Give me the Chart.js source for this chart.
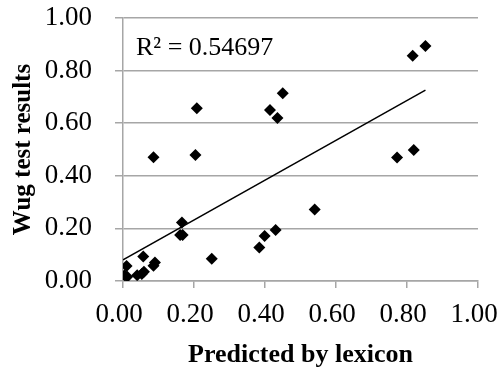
<!DOCTYPE html>
<html>
<head>
<meta charset="utf-8">
<script src="https://cdn.jsdelivr.net/npm/chart.js@4"></script>
<style>
  html, body { margin: 0; padding: 0; background: #fff; }
</style>
</head>
<body>
<canvas id="myChart" width="498" height="369"></canvas>
<script>
// values
const lexicon = [0.852, 0.816, 0.450, 0.414, 0.435, 0.208, 0.204, 0.086, 0.772, 0.819,
  0.540, 0.166, 0.161, 0.168, 0.430, 0.399, 0.384, 0.250, 0.057, 0.086,
  0.090, 0.010, 0.004, 0.012, 0.040, 0.053, 0.059]
const wug = [0.894, 0.856, 0.714, 0.650, 0.620, 0.657, 0.479, 0.471, 0.470, 0.498,
  0.272, 0.222, 0.175, 0.175, 0.194, 0.171, 0.127, 0.085, 0.093, 0.058,
  0.070, 0.057, 0.022, 0.016, 0.022, 0.027, 0.035]
const trendX = [0, 0.852]
const trendY = [0.080, 0.726]
const rSquared = '0.54697'
const tickValues = [0, 0.2, 0.4, 0.6, 0.8, 1.0]

const serif = "'Liberation Serif', 'Times New Roman', serif"

const rLabel = {
	id: 'rLabel',
	afterDraw(chart) {
		const ctx = chart.ctx
		ctx.save()
		ctx.font = '26px ' + serif
		ctx.fillStyle = '#000'
		ctx.textBaseline = 'alphabetic'
		ctx.fillText('R\u00b2 = ' + rSquared, 136, 55)
		ctx.restore()
	}
}

var ctx = document.getElementById('myChart').getContext('2d');
var myChart = new Chart(ctx, {
	type: 'scatter',
	data: {
		datasets: [{
			label: 'points',
			data: lexicon.map((x, i) => ({ x: x, y: wug[i] })),
			pointStyle: 'rectRot',
			pointRadius: 6,
			backgroundColor: '#000',
			borderColor: '#000',
			borderWidth: 0
		}, {
			label: 'trend',
			type: 'line',
			data: trendX.map((x, i) => ({ x: x, y: trendY[i] })),
			borderColor: '#000',
			borderWidth: 1.5,
			pointRadius: 0,
			fill: false
		}]
	},
	plugins: [rLabel],
	options: {
		responsive: false,
		animation: false,
		layout: { padding: { top: 18, right: 0, left: 0, bottom: 0 } },
		plugins: { legend: { display: false }, tooltip: { enabled: false } },
		scales: {
			x: {
				type: 'linear', min: 0, max: 1,
				afterBuildTicks: s => { s.ticks = tickValues.map(v => ({ value: v })) },
				afterFit: s => { s.height = 88; s.paddingRight = 20; s.paddingLeft = 0 },
				grid: { display: true, drawOnChartArea: false, drawTicks: true, tickLength: 7, color: '#a6a6a6', lineWidth: 1.5 },
				border: { color: '#a6a6a6', width: 1.5 },
				ticks: { color: '#000', font: { family: serif, size: 27 }, padding: 11, labelOffset: -4, maxRotation: 0, callback: v => v.toFixed(2) },
				title: { display: true, text: 'Predicted by lexicon', color: '#000', font: { family: serif, size: 26, weight: 'bold' }, padding: { top: 4, bottom: -2 } }
			},
			y: {
				type: 'linear', min: 0, max: 1,
				afterBuildTicks: s => { s.ticks = tickValues.map(v => ({ value: v })) },
				afterFit: s => { s.width = 123; s.paddingTop = 0; s.paddingBottom = 0 },
				grid: { color: '#a6a6a6', lineWidth: 1.5, tickLength: 8 },
				border: { color: '#a6a6a6', width: 1.5 },
				ticks: { color: '#000', font: { family: serif, size: 27 }, padding: 23, callback: v => v.toFixed(2) },
				title: { display: true, text: 'Wug test results', color: '#000', font: { family: serif, size: 25, weight: 'bold' }, padding: { top: 9, bottom: 0 } }
			}
		}
	}
});
</script>
</body>
</html>
